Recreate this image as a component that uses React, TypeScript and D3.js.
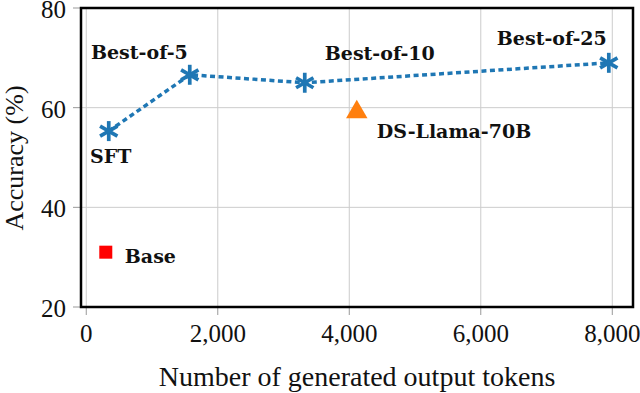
import React from 'react';
import * as d3 from 'd3';

// Data
const lineNames = ['SFT', 'Best-of-5', 'Best-of-10', 'Best-of-25'];
const lineTokens = [342, 1574, 3323, 7947];
const lineAccuracy = [55.3, 66.6, 65.0, 69.0];

const baseTokens = 297;
const baseAccuracy = 31.0;

const llamaTokens = 4114;
const llamaAccuracy = 59.3;

const xTicks = [0, 2000, 4000, 6000, 8000];
const yTicks = [20, 40, 60, 80];

const W = 640;
const H = 393;

const BLUE = '#1f77b4';
const ORANGE = '#ff7f0e';
const RED = '#ff0000';

const regular = '"Liberation Serif", "Times New Roman", serif';
const bold = '"DejaVu Serif", serif';

// label placement per name: [dx, dy, anchor]
const labelOffsets: Record<string, [number, number, string]> = {
   'SFT': [2, 32, 'middle'],
   'Best-of-5': [-2, -16, 'end'],
   'Best-of-10': [20, -23, 'start'],
   'Best-of-25': [-2, -18, 'end'],
};

const Asterisk = ({ x, y }: { x: number; y: number }) => {
   const r = 10;
   const angles = [90, 30, 150];
   return (
      <g transform={`translate(${x},${y})`} stroke={BLUE} strokeWidth={3.7}>
         {angles.map((a) => {
            const rad = (a * Math.PI) / 180;
            const dx = r * Math.cos(rad);
            const dy = r * Math.sin(rad);
            return <line key={a} x1={-dx} y1={-dy} x2={dx} y2={dy} />;
         })}
      </g>
   );
};

export default function App() {
   const left = 81;
   const right = 633;
   const top = 8;
   const bottom = 307;

   const x = d3.scaleLinear().domain([-80, 8315]).range([left, right]);
   const y = d3.scaleLinear().domain([20, 80]).range([bottom, top]);

   const pts = lineTokens.map((t, i) => [x(t), y(lineAccuracy[i])] as [number, number]);
   const linePath = d3.line()(pts) || '';

   const tri = d3.symbol().type(d3.symbolTriangle).size(200)() || '';

   const llamaX = x(llamaTokens);
   const llamaY = y(llamaAccuracy);
   const baseX = x(baseTokens);
   const baseY = y(baseAccuracy);

   return (
      <svg
         width={W}
         height={H}
         style={{ position: 'absolute', left: 0, top: 0, background: '#fff' }}
      >
         {/* grid */}
         <g stroke="#cccccc" strokeWidth={1}>
            {xTicks.map((t) => (
               <line key={'gx' + t} x1={x(t)} x2={x(t)} y1={top} y2={bottom} />
            ))}
            {yTicks.map((t) => (
               <line key={'gy' + t} x1={left} x2={right} y1={y(t)} y2={y(t)} />
            ))}
         </g>

         {/* tick marks */}
         <g stroke="#999999" strokeWidth={1}>
            {xTicks.map((t) => (
               <line key={'tx' + t} x1={x(t)} x2={x(t)} y1={bottom} y2={bottom + 8} />
            ))}
            {yTicks.map((t) => (
               <line key={'ty' + t} x1={left - 8} x2={left} y1={y(t)} y2={y(t)} />
            ))}
         </g>

         {/* tick labels */}
         <g fontFamily={regular} fontSize={25} fill="#111">
            {xTicks.map((t) => (
               <text key={'lx' + t} x={x(t)} y={342} textAnchor="middle">
                  {d3.format(',')(t)}
               </text>
            ))}
            {yTicks.map((t) => (
               <text key={'ly' + t} x={66} y={y(t) + 10} textAnchor="end">
                  {t}
               </text>
            ))}
         </g>

         {/* axis titles */}
         <text
            x={357}
            y={386}
            textAnchor="middle"
            fontFamily={regular}
            fontSize={28}
            fill="#111"
         >
            Number of generated output tokens
         </text>
         <text
            transform="translate(23,158) rotate(-90)"
            textAnchor="middle"
            fontFamily={regular}
            fontSize={26}
            fill="#111"
         >
            Accuracy (%)
         </text>

         {/* series line */}
         <path
            d={linePath}
            fill="none"
            stroke={BLUE}
            strokeWidth={3.5}
            strokeDasharray="5 3.5"
         />
         {pts.map(([px, py], i) => (
            <Asterisk key={lineNames[i]} x={px} y={py} />
         ))}

         {/* single points */}
         <rect x={baseX - 6.5} y={baseY - 6.5} width={13} height={13} fill={RED} />
         <path d={tri} transform={`translate(${llamaX},${llamaY + 1})`} fill={ORANGE} />

         {/* annotations */}
         <g fontFamily={bold} fontWeight="bold" fontSize={19} fill="#111">
            {pts.map(([px, py], i) => {
               const [dx, dy, anchor] = labelOffsets[lineNames[i]];
               return (
                  <text key={'a' + i} x={px + dx} y={py + dy} textAnchor={anchor}>
                     {lineNames[i]}
                  </text>
               );
            })}
            <text x={llamaX + 20} y={llamaY + 27}>DS-Llama-70B</text>
            <text x={baseX + 19} y={baseY + 11}>Base</text>
         </g>

         {/* frame */}
         <rect
            x={left}
            y={top}
            width={right - left}
            height={bottom - top}
            fill="none"
            stroke="#000"
            strokeWidth={2.5}
         />
      </svg>
   );
}
